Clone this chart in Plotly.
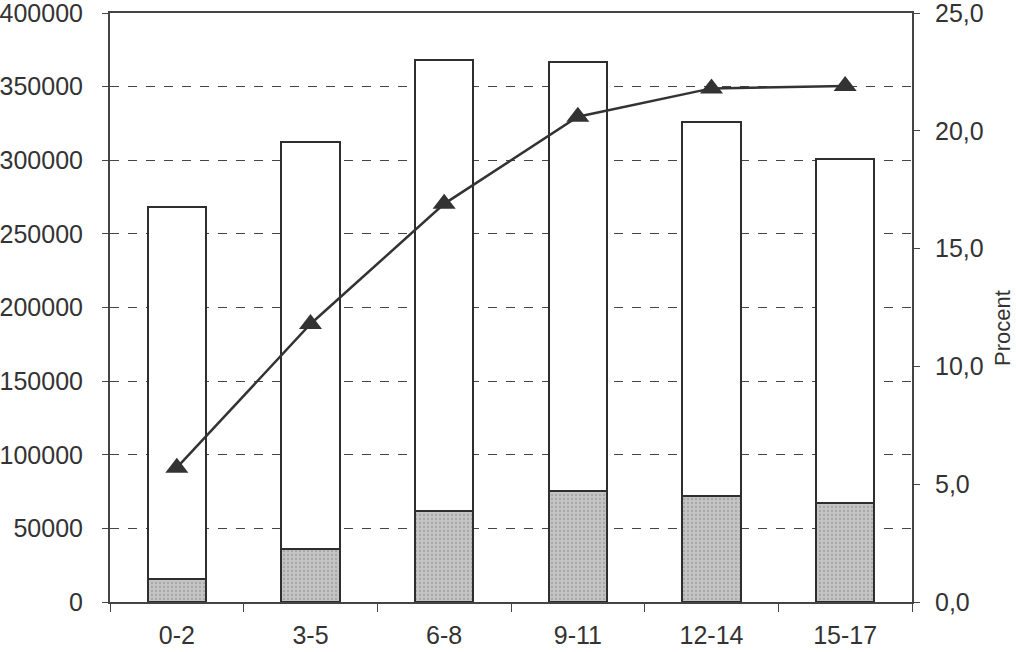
import plotly.graph_objects as go

categories = ["0-2", "3-5", "6-8", "9-11", "12-14", "15-17"]
gray_values = [15600, 36000, 61800, 75200, 72000, 67200]
white_values = [252400, 276400, 306200, 291500, 254000, 233600]
percent = [5.7, 11.8, 16.9, 20.6, 21.8, 21.9]

left_ticks = [0, 50000, 100000, 150000, 200000, 250000, 300000, 350000, 400000]
right_ticks = [0, 5, 10, 15, 20, 25]

txt = "#333333"
edge = "#2e2e2e"
axc = "#444444"
font = dict(family="Liberation Sans, Arial, sans-serif", size=25, color=txt)

fig = go.Figure()
fig.add_trace(go.Bar(
    x=categories, y=gray_values, yaxis="y",
    marker=dict(color="#c0c0c0", line=dict(color=edge, width=2),
                pattern=dict(shape=".", fgcolor="#888888", bgcolor="#c4c4c4", size=4, solidity=0.25)),
    showlegend=False,
))
fig.add_trace(go.Bar(
    x=categories, y=white_values, yaxis="y",
    marker=dict(color="white", line=dict(color=edge, width=2)),
    showlegend=False,
))
fig.add_trace(go.Scatter(
    x=categories, y=percent, yaxis="y2", mode="lines+markers",
    line=dict(color="#333333", width=2.5),
    marker=dict(symbol="triangle-up", size=20, color="#333333"),
    showlegend=False,
))

fig.update_layout(
    width=1016, height=652,
    margin=dict(l=110, r=104, t=13, b=50),
    paper_bgcolor="white", plot_bgcolor="white",
    barmode="stack", bargap=0.566,
    font=font,
    separators=", ",
    xaxis=dict(
        showline=True, linecolor=axc, linewidth=2, mirror=True,
        ticks="outside", tickson="boundaries", ticklen=8, tickcolor=axc,
        showgrid=False, tickfont=font, automargin=False, ticklabelstandoff=10,
        ticklabeloverflow="allow",
    ),
    yaxis=dict(
        range=[0, 400000], tickvals=left_ticks, tickformat="d",
        showline=True, linecolor=axc, linewidth=2,
        ticks="outside", ticklen=6, tickcolor=axc,
        showgrid=True, gridcolor="#444444", griddash="dash", gridwidth=1.3,
        zeroline=False, tickfont=font, automargin=False, ticklabelstandoff=14,
        ticklabeloverflow="allow",
    ),
    yaxis2=dict(
        range=[0, 25], tickvals=right_ticks, tickformat=".1f",
        overlaying="y", side="right",
        showline=True, linecolor=axc, linewidth=2,
        ticks="outside", ticklen=6, tickcolor=axc,
        showgrid=False, zeroline=False, tickfont=font, automargin=False,
        ticklabelstandoff=10, ticklabeloverflow="allow",
    ),
    annotations=[dict(
        text="Procent", textangle=-90, xref="paper", yref="paper",
        x=(1002 - 110) / 802, y=(602 - 328) / 589, xanchor="center", yanchor="middle",
        showarrow=False, font=dict(family="Liberation Sans, Arial, sans-serif", size=22, color=txt),
    )],
)

fig.write_html("out.html", config={"displayModeBar": False},
               post_script="document.body.style.margin='0';document.body.style.padding='0';")
